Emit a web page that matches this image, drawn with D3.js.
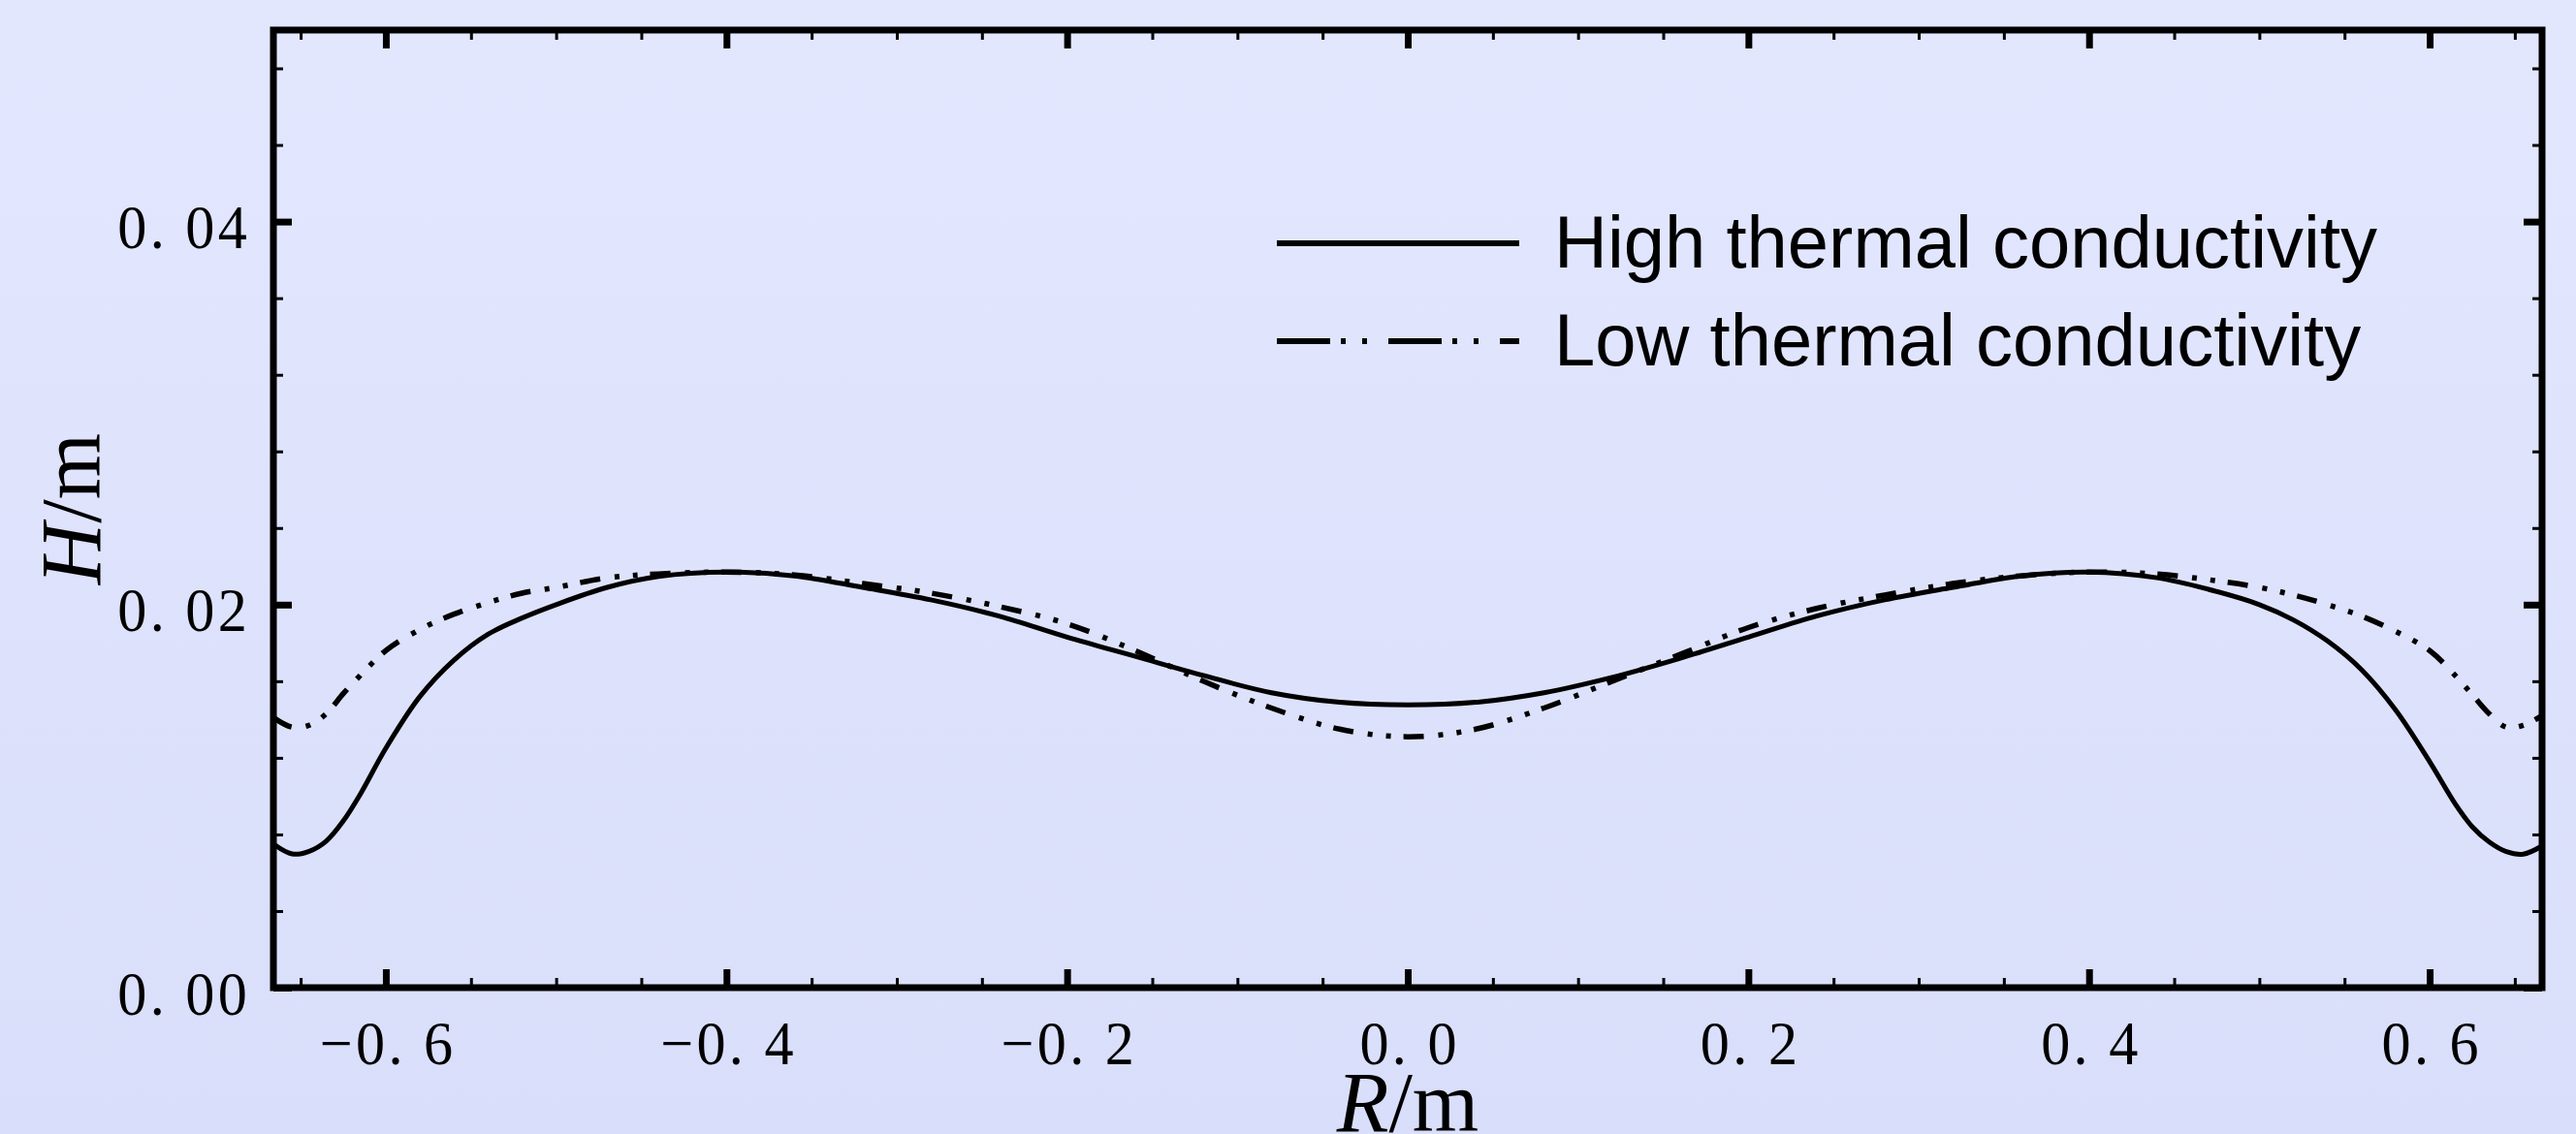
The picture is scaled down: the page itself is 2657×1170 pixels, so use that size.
<!DOCTYPE html>
<html><head><meta charset="utf-8">
<script src="https://cdn.jsdelivr.net/npm/d3@7"></script>
<style>html,body{margin:0;padding:0;overflow:hidden;background:#DFE3FC}</style>
</head><body><svg id="c" width="2657" height="1170"></svg>
<script>
// ---- data ----
const radius = [-0.666,-0.655,-0.645,-0.635,-0.625,-0.615,-0.60,-0.58,-0.56,-0.54,-0.52,-0.50,-0.47,-0.44,-0.40,-0.36,-0.32,-0.28,-0.24,-0.20,-0.16,-0.12,-0.08,-0.04,0,0.04,0.08,0.12,0.16,0.20,0.24,0.28,0.32,0.36,0.40,0.44,0.47,0.50,0.52,0.54,0.56,0.58,0.60,0.615,0.625,0.635,0.645,0.655,0.666];
const highH = [0.0075,0.00698,0.00712,0.00765,0.0087,0.0101,0.0125,0.0152,0.0171,0.01845,0.0193,0.0200,0.0209,0.02147,0.0217,0.0215,0.0209,0.02025,0.0194,0.0183,0.0173,0.0163,0.0154,0.0149,0.01477,0.0149,0.0154,0.0162,0.0172,0.0183,0.0194,0.02025,0.0209,0.0215,0.0217,0.0214,0.0208,0.0200,0.0192,0.0181,0.0166,0.0145,0.0118,0.0096,0.0084,0.0076,0.0071,0.00697,0.0074];
const lowH = [0.0141,0.0136,0.0137,0.0143,0.01535,0.0163,0.0176,0.0187,0.0195,0.0201,0.0206,0.0209,0.0214,0.0216,0.0217,0.02155,0.0211,0.0206,0.0199,0.0190,0.0176,0.0160,0.0146,0.0135,0.0131,0.0135,0.0146,0.0160,0.0174,0.0188,0.0198,0.0205,0.0211,0.0215,0.0217,0.0216,0.0213,0.0209,0.0205,0.0200,0.0194,0.0186,0.0176,0.0163,0.0153,0.0143,0.0136,0.0137,0.0142];
const seriesNames = ["High thermal conductivity","Low thermal conductivity"];
const xTicks = [-0.6,-0.4,-0.2,0,0.2,0.4,0.6];
const xTickLabels = ["\u22120. 6","\u22120. 4","\u22120. 2","0. 0","0. 2","0. 4","0. 6"];
const yTicks = [0,0.02,0.04];
const yTickLabels = ["0. 00","0. 02","0. 04"];
const xDomain = [-0.666,0.666];
const yDomain = [0,0.05];

// ---- layout ----
const L=282, Rt=2622, T=31, B=1019;
const svg = d3.select("#c");
const defs = svg.append("defs");
const grad = defs.append("linearGradient").attr("id","bg").attr("x1",0).attr("y1",0).attr("x2",0).attr("y2",1);
grad.append("stop").attr("offset","0%").attr("stop-color","#E3E7FE");
grad.append("stop").attr("offset","100%").attr("stop-color","#D9DEFA");
svg.append("rect").attr("width",2657).attr("height",1170).attr("fill","url(#bg)");
defs.append("clipPath").attr("id","clip").append("rect").attr("x",L).attr("y",T).attr("width",Rt-L).attr("height",B-T);

const x = d3.scaleLinear().domain(xDomain).range([L,Rt]);
const y = d3.scaleLinear().domain(yDomain).range([B,T]);

const xMinor = d3.range(-13,14).filter(i=>i%4!==0).map(i=>i*0.05);
const yMinor = d3.range(1,13).filter(i=>i%5!==0).map(i=>i*0.004);

function styleAxis(g, w){
  g.select(".domain").remove();
  g.selectAll(".tick line").attr("stroke","#000").attr("stroke-width",w);
}
const MAJ=19, MIN=10;
const tickFont = "'Liberation Serif','Times New Roman',serif";
const SX = 0.94;
// bottom
const gb = svg.append("g").attr("transform",`translate(0,${B})`)
  .call(d3.axisBottom(x).tickValues(xTicks).tickSize(-MAJ).tickFormat((d,i)=>xTickLabels[i]));
styleAxis(gb,7);
gb.selectAll(".tick text").attr("x",1.7/SX).attr("y",79).attr("dy",0).attr("fill","#000")
  .attr("transform",`scale(${SX},1)`)
  .attr("font-family",tickFont).attr("font-size",64).attr("letter-spacing",3.5);
svg.append("g").attr("transform",`translate(0,${B})`)
  .call(d3.axisBottom(x).tickValues(xMinor).tickSize(-MIN).tickFormat("")).call(g=>styleAxis(g,3));
// top
svg.append("g").attr("transform",`translate(0,${T})`)
  .call(d3.axisTop(x).tickValues(xTicks).tickSize(-MAJ).tickFormat("")).call(g=>styleAxis(g,7));
svg.append("g").attr("transform",`translate(0,${T})`)
  .call(d3.axisTop(x).tickValues(xMinor).tickSize(-MIN).tickFormat("")).call(g=>styleAxis(g,3));
// left
const gl = svg.append("g").attr("transform",`translate(${L},0)`)
  .call(d3.axisLeft(y).tickValues(yTicks).tickSize(-MAJ).tickFormat((d,i)=>yTickLabels[i]));
styleAxis(gl,7);
gl.selectAll(".tick text").attr("x",-24/SX).attr("y",27).attr("dy",0).attr("fill","#000")
  .attr("transform",`scale(${SX},1)`)
  .attr("font-family",tickFont).attr("font-size",64).attr("letter-spacing",3.5);
svg.append("g").attr("transform",`translate(${L},0)`)
  .call(d3.axisLeft(y).tickValues(yMinor).tickSize(-MIN).tickFormat("")).call(g=>styleAxis(g,3));
// right
svg.append("g").attr("transform",`translate(${Rt},0)`)
  .call(d3.axisRight(y).tickValues(yTicks).tickSize(-MAJ).tickFormat("")).call(g=>styleAxis(g,7));
svg.append("g").attr("transform",`translate(${Rt},0)`)
  .call(d3.axisRight(y).tickValues(yMinor).tickSize(-MIN).tickFormat("")).call(g=>styleAxis(g,3));

// frame
svg.append("rect").attr("x",L).attr("y",T).attr("width",Rt-L).attr("height",B-T)
  .attr("fill","none").attr("stroke","#000").attr("stroke-width",7);

// curves
const line = d3.line().x((d,i)=>x(radius[i])).y(d=>y(d)).curve(d3.curveCatmullRom.alpha(0.5));
const plot = svg.append("g").attr("clip-path","url(#clip)");
plot.append("path").datum(lowH).attr("d",line).attr("fill","none").attr("stroke","#000")
  .attr("stroke-width",5.5).attr("stroke-dasharray","21,15,5,14,5,13");
plot.append("path").datum(highH).attr("d",line).attr("fill","none").attr("stroke","#000")
  .attr("stroke-width",5);

// legend
const legY=[251,352];
const dashes=[null,"55,11,5,17,5,22"];
seriesNames.forEach((n,i)=>{
  const ln = svg.append("line").attr("x1",1317).attr("x2",1567).attr("y1",legY[i]).attr("y2",legY[i])
    .attr("stroke","#000").attr("stroke-width",6);
  if(dashes[i]) ln.attr("stroke-dasharray",dashes[i]);
  svg.append("text").attr("x",1603).attr("y",legY[i]+25).text(n)
    .attr("font-family","'Liberation Sans',Arial,sans-serif").attr("font-size",76).attr("fill","#000");
});

// axis titles
const xt = svg.append("text").attr("x",(L+Rt)/2).attr("y",1167).attr("text-anchor","middle")
  .attr("font-family","'Liberation Serif','Times New Roman',serif").attr("font-size",88).attr("fill","#000");
xt.append("tspan").attr("font-style","italic").text("R");
xt.append("tspan").text("/m");
const yt = svg.append("text").attr("transform",`translate(103,${(T+B)/2}) rotate(-90)`).attr("text-anchor","middle")
  .attr("font-family","'Liberation Serif','Times New Roman',serif").attr("font-size",88).attr("fill","#000");
yt.append("tspan").attr("font-style","italic").text("H");
yt.append("tspan").text("/m");
</script></body></html>
